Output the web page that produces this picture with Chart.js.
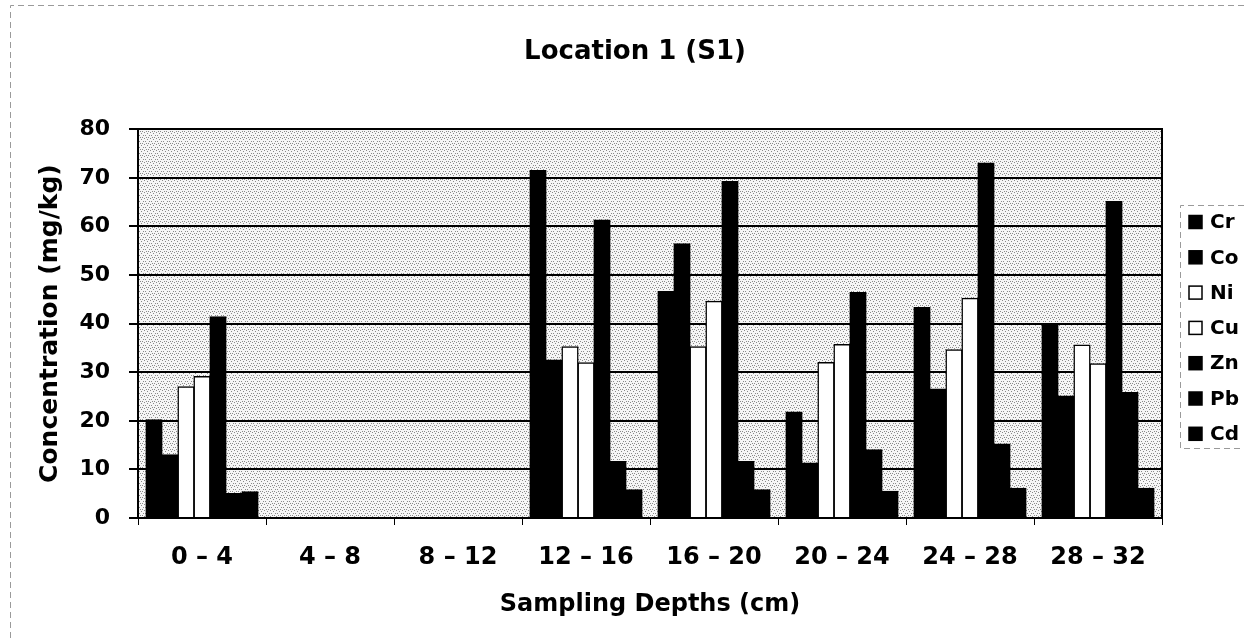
<!DOCTYPE html>
<html>
<head>
<meta charset="utf-8">
<title>Location 1 (S1)</title>
<style>
  html, body { margin: 0; padding: 0; background: #ffffff; }
  #wrap { position: relative; width: 1244px; height: 638px; }
</style>
<script src="https://cdn.jsdelivr.net/npm/chart.js@4.4.1/dist/chart.umd.min.js"></script>
</head>
<body>
<div id="wrap"><canvas id="chart" width="1244" height="638"></canvas></div>
<script>
// Sampling depth intervals (cm)
const depths = ['0 – 4', '4 – 8', '8 – 12', '12 – 16', '16 – 20', '20 – 24', '24 – 28', '28 – 32'];

// Metal concentrations (mg/kg) per depth; no samples at 4–8 and 8–12 cm
const cr = [20.2, null, null, 71.5, 46.6, 21.8, 43.3, 39.6];
const co = [13.0, null, null, 32.5, 56.4, 11.3, 26.5, 25.1];
const ni = [27.0, null, null, 35.2, 35.2, 32.0, 34.6, 35.6];
const cu = [29.1, null, null, 31.9, 44.6, 35.7, 45.2, 31.7];
const zn = [41.4, null, null, 61.3, 69.2, 46.4, 73.0, 65.1];
const pb = [5.0, null, null, 11.6, 11.6, 14.0, 15.2, 25.8];
const cd = [5.4, null, null, 5.8, 5.8, 5.5, 6.1, 6.1];

// Value axis
const yMin = 0;
const yMax = 80;
const yStep = 10;

const FONT = "'DejaVu Sans', 'Liberation Sans', Arial, sans-serif";

function series(label, data, fill) {
  return {
    label: label,
    data: data,
    backgroundColor: fill,
    borderColor: '#000000',
    borderWidth: 1.5,
    borderSkipped: 'bottom',
    inflateAmount: 0.6,
    categoryPercentage: 0.875,
    barPercentage: 1.0
  };
}

// Speckled grey fill for the plot area
function makeSpeckle(ctx) {
  const tile = document.createElement('canvas');
  tile.width = 6; tile.height = 6;
  const t = tile.getContext('2d');
  t.fillStyle = '#f6f6f6';
  t.fillRect(0, 0, 6, 6);
  t.fillStyle = '#8a8a8a';
  [[0, 0], [3, 1], [5, 3], [1, 3], [4, 5], [2, 5]].forEach(p => t.fillRect(p[0], p[1], 1, 1));
  return ctx.createPattern(tile, 'repeat');
}

const plotBackground = {
  id: 'plotBackground',
  beforeDraw(chart) {
    const { ctx, chartArea: a } = chart;
    ctx.save();
    ctx.fillStyle = makeSpeckle(ctx);
    ctx.fillRect(a.left, a.top, a.right - a.left, a.bottom - a.top);
    ctx.restore();
  }
};

// Dashed outer frame and the side legend
const frameAndLegend = {
  id: 'frameAndLegend',
  afterDraw(chart) {
    const ctx = chart.ctx;
    ctx.save();
    ctx.strokeStyle = '#9a9a9a';
    ctx.lineWidth = 1;
    ctx.setLineDash([6, 4]);
    ctx.beginPath();
    ctx.moveTo(10.5, 638);
    ctx.lineTo(10.5, 5.5);
    ctx.lineTo(1244, 5.5);
    ctx.stroke();

    // legend frame
    const lx = 1180.5, ly = 205.5, lb = 448.5;
    ctx.beginPath();
    ctx.moveTo(1244, ly);
    ctx.lineTo(lx, ly);
    ctx.lineTo(lx, lb);
    ctx.lineTo(1244, lb);
    ctx.stroke();
    ctx.setLineDash([]);

    // legend entries
    const ds = chart.data.datasets;
    const first = 222, gap = 35.3, box = 13;
    ctx.font = 'bold 20px ' + FONT;
    ctx.textBaseline = 'middle';
    ctx.textAlign = 'left';
    ds.forEach((d, i) => {
      const cy = first + i * gap;
      ctx.fillStyle = d.backgroundColor;
      ctx.fillRect(1189, cy - box / 2, box, box);
      ctx.strokeStyle = '#000000';
      ctx.lineWidth = 1.5;
      ctx.strokeRect(1189, cy - box / 2, box, box);
      ctx.fillStyle = '#000000';
      ctx.fillText(d.label, 1210, cy + 1);
    });
    ctx.restore();
  }
};

new Chart(document.getElementById('chart'), {
  type: 'bar',
  data: {
    labels: depths,
    datasets: [
      series('Cr', cr, '#000000'),
      series('Co', co, '#000000'),
      series('Ni', ni, '#ffffff'),
      series('Cu', cu, '#ffffff'),
      series('Zn', zn, '#000000'),
      series('Pb', pb, '#000000'),
      series('Cd', cd, '#000000')
    ]
  },
  options: {
    responsive: false,
    animation: false,
    devicePixelRatio: 1,
    layout: { padding: { left: 26, right: 0, top: 0, bottom: 0 } },
    plugins: {
      legend: { display: false },
      tooltip: { enabled: false },
      title: {
        display: true,
        text: 'Location 1 (S1)',
        color: '#000000',
        font: { family: FONT, size: 26, weight: 'bold' },
        padding: { top: 37, bottom: 61 }
      }
    },
    scales: {
      x: {
        grid: {
          display: true,
          drawOnChartArea: false,
          drawTicks: true,
          tickLength: 7,
          color: '#000000',
          lineWidth: 1
        },
        border: { display: true, color: '#000000', width: 2 },
        ticks: {
          color: '#000000',
          font: { family: FONT, size: 24, weight: 'bold' },
          padding: 18,
          maxRotation: 0,
          autoSkip: false
        },
        title: {
          display: true,
          text: 'Sampling Depths (cm)',
          color: '#000000',
          font: { family: FONT, size: 24, weight: 'bold' },
          padding: { top: 0, bottom: 19 }
        },
        afterFit(scale) { scale.height = 120; }
      },
      y: {
        min: yMin,
        max: yMax,
        ticks: {
          stepSize: yStep,
          color: '#000000',
          font: { family: FONT, size: 22, weight: 'bold' },
          padding: 19
        },
        grid: {
          color: '#000000',
          lineWidth: 2,
          drawTicks: true,
          tickLength: 9
        },
        border: { display: true, color: '#000000', width: 2 },
        title: {
          display: true,
          text: 'Concentration (mg/kg)',
          color: '#000000',
          font: { family: FONT, size: 25, weight: 'bold' },
          padding: { top: 9, bottom: 0 }
        },
        afterFit(scale) { scale.width = 112; }
      },
      edge: {
        type: 'linear',
        position: 'right',
        min: yMin,
        max: yMax,
        grid: { drawOnChartArea: false, drawTicks: false },
        ticks: { display: false },
        border: { display: true, color: '#000000', width: 2 },
        afterFit(scale) { scale.width = 82; }
      }
    }
  },
  plugins: [plotBackground, frameAndLegend]
});
</script>
</body>
</html>
